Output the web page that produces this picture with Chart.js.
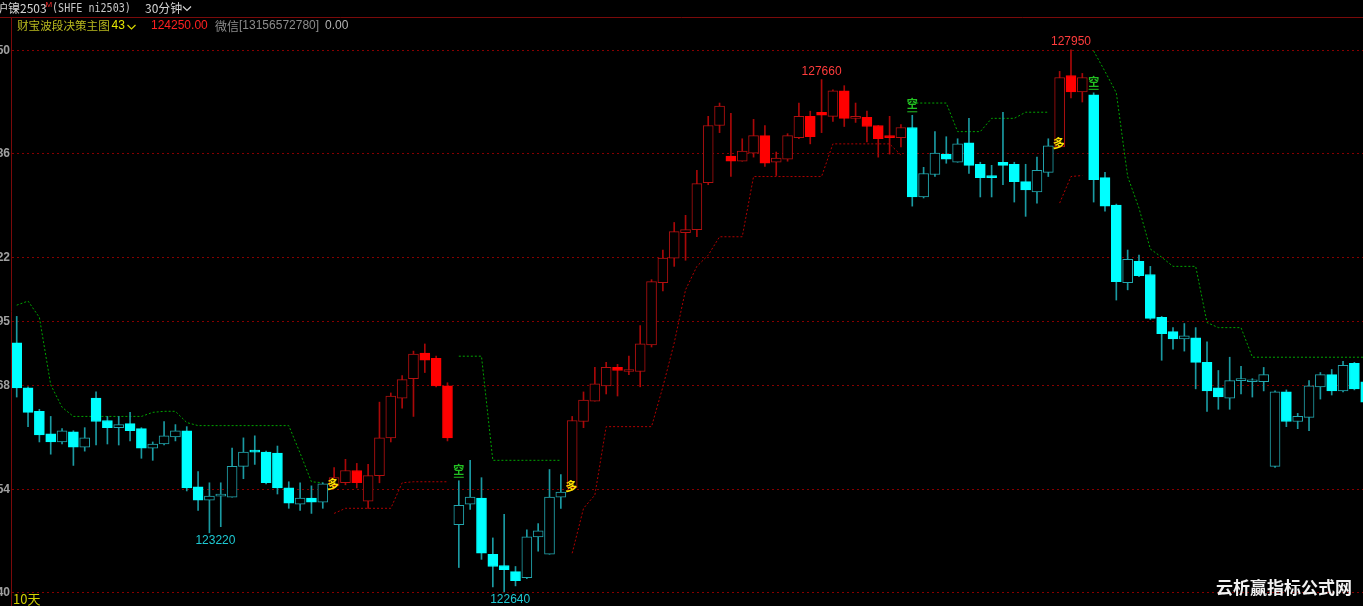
<!DOCTYPE html>
<html>
<head>
<meta charset="utf-8">
<title>沪镍2503 30分钟</title>
<script src="https://cdn.jsdelivr.net/npm/chart.js@4.4.1/dist/chart.umd.min.js"></script>
<style>
  html, body { margin: 0; padding: 0; background: #000; overflow: hidden; }
  canvas { display: block; }
</style>
</head>
<body>
<canvas id="kline" width="1363" height="606"></canvas>
<script>
'use strict';

// 30 minute bars
const opens = [
  125080, 124640, 124410, 124190, 124110, 124210, 124060, 124540, 124320, 124250,
  124290, 124240, 124050, 124090, 124160, 124220, 123670, 123540, 123580, 123570,
  123870, 124030, 124010, 124000, 123660, 123500, 123560, 123520, 123680, 123710,
  123830, 123530, 123780, 124150, 124540, 124730, 124980, 124930, 124660, 123300,
  123500, 123560, 123010, 122900, 122840, 122780, 123180, 123010, 123570, 123660,
  124310, 124510, 124660, 124840, 124800, 124800, 125060, 125670, 125910, 126160,
  126190, 126650, 127210, 126910, 126860, 126940, 127110, 126850, 126880, 127090,
  127300, 127340, 127300, 127550, 127280, 127290, 127210, 127110, 127090, 127190,
  126510, 126730, 126930, 126850, 127040, 126830, 126720, 126850, 126830, 126660,
  126560, 126750, 127000, 127700, 127540, 127510, 126700, 126430, 125670, 125880,
  125750, 125330, 125190, 125120, 125130, 124890, 124640, 124540, 124710, 124700,
  124700, 123870, 124600, 124310, 124350, 124650, 124770, 124610, 124880, 124700
];
const highs = [
  125340, 124650, 124430, 124360, 124240, 124220, 124250, 124600, 124360, 124360,
  124400, 124250, 124110, 124310, 124280, 124260, 123820, 123710, 123710, 124050,
  124150, 124170, 124020, 124070, 123720, 123710, 123680, 123710, 123860, 123940,
  123900, 123890, 124500, 124590, 124760, 125000, 125070, 124950, 124690, 123730,
  123930, 123760, 123170, 123400, 122890, 123250, 123310, 123840, 123790, 124360,
  124600, 124840, 124890, 124870, 124950, 125250, 125700, 125990, 126260, 126330,
  126770, 127300, 127430, 127330, 127080, 127270, 127210, 126950, 127130, 127430,
  127350, 127660, 127560, 127600, 127430, 127350, 127210, 127300, 127220, 127310,
  126800, 127150, 127100, 127080, 127280, 126850, 126820, 127340, 126850, 126830,
  126900, 127080, 127740, 127950, 127720, 127530, 126750, 126440, 125990, 125940,
  125830, 125340, 125230, 125270, 125230, 125090, 124810, 124940, 124850, 124730,
  124840, 124610, 124620, 124390, 124710, 124790, 124820, 124900, 124890, 124720
];
const lows = [
  124550, 124260, 124110, 123990, 124090, 123880, 124020, 124080, 124090, 124080,
  124120, 123950, 123930, 124080, 124120, 123630, 123440, 123220, 123280, 123570,
  123750, 123890, 123700, 123600, 123460, 123440, 123410, 123460, 123660, 123690,
  123660, 123460, 123710, 124110, 124440, 124360, 124790, 124650, 124120, 122880,
  123450, 122960, 122690, 122640, 122700, 122770, 123040, 123010, 123460, 123640,
  124250, 124510, 124580, 124560, 124770, 124650, 125040, 125590, 125830, 125890,
  126120, 126630, 127140, 126710, 126860, 126900, 126810, 126720, 126860, 127080,
  127030, 127140, 127250, 127200, 127240, 127050, 126900, 126930, 127000, 126420,
  126500, 126710, 126840, 126850, 126740, 126510, 126510, 126630, 126460, 126320,
  126450, 126710, 127000, 127480, 127440, 126460, 126370, 125500, 125600, 125730,
  125310, 124910, 125020, 125000, 124630, 124410, 124430, 124430, 124580, 124550,
  124610, 123860, 124260, 124240, 124220, 124530, 124570, 124600, 124620, 124490
];
const closes = [
  124640, 124400, 124180, 124110, 124220, 124060, 124150, 124310, 124250, 124280,
  124220, 124050, 124090, 124170, 124220, 123660, 123540, 123580, 123600, 123870,
  124010, 124010, 123710, 123660, 123510, 123560, 123520, 123700, 123760, 123830,
  123710, 123780, 124150, 124560, 124720, 124970, 124910, 124660, 124150, 123490,
  123570, 123020, 122890, 122860, 122750, 123180, 123240, 123570, 123620, 124320,
  124520, 124680, 124840, 124810, 124810, 125070, 125680, 125910, 126170, 126190,
  126640, 127210, 127400, 126860, 126960, 127110, 126840, 126890, 127110, 127300,
  127100, 127310, 127550, 127280, 127300, 127200, 127080, 127090, 127190, 126510,
  126740, 126940, 126880, 127030, 126820, 126700, 126700, 126820, 126660, 126580,
  126770, 127010, 127680, 127540, 127680, 126680, 126420, 125680, 125900, 125740,
  125320, 125170, 125120, 125150, 124890, 124610, 124550, 124710, 124730, 124710,
  124770, 124600, 124310, 124360, 124660, 124770, 124610, 124860, 124630, 124500
];

// bars coloured red by the indicator (everything else is cyan)
const redRanges = [[28, 38], [49, 78], [92, 94]];

// trailing stop lines of the indicator
const greenStop = [
  125450, 125490, 125330, 124670, 124450, 124360, 124360, 124360, 124360, 124360,
  124360, 124360, 124400, 124410, 124410, 124300, 124270, 124270, 124270, 124270,
  124270, 124270, 124270, 124270, 124270, 124000, 123720, 123710, null, null,
  null, null, null, null, null, null, null, null, null, 124950,
  124950, 124950, 123930, 123930, 123930, 123930, 123930, 123930, 123930, null,
  null, null, null, null, null, null, null, null, null, null,
  null, null, null, null, null, null, null, null, null, null,
  null, null, null, null, null, null, null, null, null, 127430,
  127430, 127430, 127430, 127150, 127150, 127150, 127280, 127280, 127280, 127340,
  127340, 127340, null, null, null, 127940, 127740, 127530, 126710, 126400,
  126000, 125920, 125830, 125830, 125830, 125280, 125230, 125230, 125230, 124940,
  124940, 124940, 124940, 124940, 124940, 124940, 124940, 124940, 124940, 124940
];
const redStop = [
  null, null, null, null, null, null, null, null, null, null,
  null, null, null, null, null, null, null, null, null, null,
  null, null, null, null, null, null, null, null, 123410, 123460,
  123460, 123460, 123460, 123460, 123710, 123720, 123720, 123720, 123720, null,
  null, null, null, null, null, null, null, null, null, 123020,
  123460, 123590, 124260, 124260, 124260, 124260, 124260, 124650, 125080, 125600,
  125830, 125940, 126120, 126120, 126120, 126710, 126710, 126710, 126710, 126710,
  126710, 126710, 127030, 127030, 127030, 127030, 127030, 127030, 126920, null,
  null, null, null, null, null, null, null, null, null, null,
  null, null, 126450, 126710, 126720, null, null, null, null, null,
  null, null, null, null, null, null, null, null, null, null,
  null, null, null, null, null, null, null, null, null, null
];

// 多 / 空 signals (bar index)
const buySignals = [28, 49, 92];
const sellSignals = [39, 79, 95];

// high / low labels
const markIdx = [71, 93, 17, 43];
const markVal = [127660, 127950, 123220, 122640];

// horizontal levels (low, high and the fib steps between)
const levelValues = [127950, 126936, 125922, 125295, 124668, 123654, 122640];

const cjk = '"Noto Sans CJK SC", "DejaVu Sans", sans-serif';

function isRed(i) {
  return redRanges.some(r => i >= r[0] && i <= r[1]);
}

const idx = opens.map((_, i) => i);
const bodies = idx.map(i => ({ x: i, y: [opens[i], closes[i]] }));
const wicks = idx.map(i => ({ x: i, y: [lows[i], highs[i]] }));

const bodyFill = idx.map(i => {
  let up = closes[i] >= opens[i];
  if (up) return '#000';
  return isRed(i) ? '#ff0000' : '#00ffff';
});
const bodyEdge = idx.map(i => {
  let up = closes[i] >= opens[i];
  if (isRed(i)) return up ? '#b21010' : '#ff0000';
  return up ? '#22a6ae' : '#00ffff';
});
const wickColor = idx.map(i => (isRed(i) ? '#a80808' : '#1a9aa2'));

function chevron(ctx, x, y, color) {
  ctx.strokeStyle = color;
  ctx.lineWidth = 1.2;
  ctx.setLineDash([]);
  ctx.beginPath();
  ctx.moveTo(x, y - 2);
  ctx.lineTo(x + 4, y + 2);
  ctx.lineTo(x + 8, y - 2);
  ctx.stroke();
}

const frame = {
  id: 'frame',
  beforeDraw(chart) {
    let ctx = chart.ctx;
    ctx.save();
    ctx.fillStyle = '#000';
    ctx.fillRect(0, 0, chart.width, chart.height);
    ctx.restore();
  },
  beforeDatasetsDraw(chart) {
    let { ctx, chartArea, scales } = chart;
    ctx.save();
    ctx.strokeStyle = '#860000';
    ctx.lineWidth = 1;
    ctx.setLineDash([2, 3]);
    ctx.font = 'bold 12px "Liberation Sans", sans-serif';
    ctx.fillStyle = '#a0a0a0';
    ctx.textAlign = 'right';
    ctx.textBaseline = 'middle';
    levelValues.forEach(v => {
      let y = Math.round(scales.y.getPixelForValue(v)) + 0.5;
      ctx.beginPath();
      ctx.moveTo(chartArea.left, y);
      ctx.lineTo(chartArea.right, y);
      ctx.stroke();
      ctx.fillText(String(v), chartArea.left - 2, y);
    });
    ctx.restore();
  },
  afterDatasetsDraw(chart) {
    let { ctx, scales } = chart;
    ctx.save();
    ctx.textAlign = 'center';
    ctx.textBaseline = 'middle';

    // 多 signals, yellow, at the bar low
    ctx.font = 'bold 12px ' + cjk;
    ctx.fillStyle = '#ffe000';
    buySignals.forEach(i => {
      ctx.fillText('多', scales.x.getPixelForValue(i) - 1, scales.y.getPixelForValue(lows[i]) - 3);
    });

    // 空 signals, green, above the bar high
    ctx.font = 'bold 11px ' + cjk;
    ctx.fillStyle = '#22c022';
    ctx.strokeStyle = '#22c022';
    ctx.lineWidth = 1;
    sellSignals.forEach(i => {
      let x = scales.x.getPixelForValue(i);
      let y = scales.y.getPixelForValue(highs[i]);
      ctx.fillText('空', x, y - 11);
      ctx.beginPath();
      ctx.moveTo(x - 5, y - 3.5);
      ctx.lineTo(x + 5, y - 3.5);
      ctx.stroke();
    });

    // extreme labels
    ctx.font = '12px "Liberation Sans", sans-serif';
    markIdx.forEach((i, k) => {
      let x = scales.x.getPixelForValue(i);
      let y = scales.y.getPixelForValue(markVal[k]);
      let isHigh = markVal[k] === highs[i];
      ctx.fillStyle = isHigh ? '#ff3c3c' : '#1ec8d2';
      ctx.fillText(String(markVal[k]), isHigh ? x : x + 6, isHigh ? y - 8 : y + 8);
    });
    ctx.restore();
  },
  afterDraw(chart) {
    let { ctx, chartArea } = chart;
    ctx.save();

    // frame lines
    ctx.strokeStyle = '#7a0a0a';
    ctx.lineWidth = 1;
    ctx.beginPath();
    ctx.moveTo(0, 17.5);
    ctx.lineTo(chart.width, 17.5);
    ctx.moveTo(chartArea.left - 0.5, 17.5);
    ctx.lineTo(chartArea.left - 0.5, chart.height);
    ctx.stroke();

    ctx.textBaseline = 'middle';
    ctx.textAlign = 'left';

    // title row
    ctx.font = '12px ' + cjk;
    ctx.fillStyle = '#d4d4d4';
    ctx.fillText('沪镍2503', -4, 8);
    ctx.font = '8px "Liberation Sans", sans-serif';
    ctx.fillStyle = '#ff3030';
    ctx.fillText('M', 45.5, 5);
    ctx.save();
    ctx.translate(52, 8.5);
    ctx.scale(0.84, 1);
    ctx.font = '12px "DejaVu Sans Mono", monospace';
    ctx.fillStyle = '#c8c8c8';
    ctx.fillText('(SHFE ni2503)', 0, 0);
    ctx.restore();
    ctx.font = '12px ' + cjk;
    ctx.fillStyle = '#d4d4d4';
    ctx.fillText('30分钟', 145, 8);
    chevron(ctx, 183, 8.5, '#d4d4d4');

    // indicator row
    ctx.font = '11.6px ' + cjk;
    ctx.fillStyle = '#b8b81e';
    ctx.fillText('财宝波段决策主图', 17, 26);
    ctx.fillStyle = '#e6e600';
    ctx.font = '12px "Liberation Sans", sans-serif';
    ctx.fillText('43', 111.5, 26);
    chevron(ctx, 127.5, 27, '#d8d800');
    ctx.fillStyle = '#ff2020';
    ctx.fillText('124250.00', 151, 26);
    ctx.font = '12px ' + cjk;
    ctx.fillStyle = '#8c8c8c';
    ctx.fillText('微信', 215, 26);
    ctx.font = '12px "Liberation Sans", sans-serif';
    ctx.fillText('[13156572780]', 239, 26);
    ctx.fillStyle = '#b4b4b4';
    ctx.fillText('0.00', 325, 26);

    // period tag
    ctx.font = '13px ' + cjk;
    ctx.fillStyle = '#d2d200';
    ctx.fillText('10天', 13, 599);

    // watermark
    ctx.font = 'bold 17px ' + cjk;
    ctx.fillStyle = '#f2f2f2';
    ctx.fillText('云析赢指标公式网', 1216, 588);
    ctx.restore();
  }
};

let canvas = document.getElementById('kline');

new Chart(canvas, {
  type: 'bar',
  data: {
    datasets: [
      {
        type: 'bar',
        label: 'body',
        data: bodies,
        backgroundColor: bodyFill,
        borderColor: bodyEdge,
        borderWidth: 1,
        borderSkipped: false,
        barThickness: 10,
        minBarLength: 2,
        grouped: false,
        order: 0,
      },
      {
        type: 'bar',
        label: 'wick',
        data: wicks,
        backgroundColor: wickColor,
        borderWidth: 0,
        barThickness: 1,
        grouped: false,
        order: 1,
      },
      {
        type: 'line',
        label: 'green stop',
        data: greenStop.map((v, i) => ({ x: i, y: v })),
        borderColor: '#00a400',
        borderWidth: 1,
        borderDash: [2, 2],
        pointRadius: 0,
        spanGaps: false,
        tension: 0,
        order: 2,
      },
      {
        type: 'line',
        label: 'red stop',
        data: redStop.map((v, i) => ({ x: i, y: v })),
        borderColor: '#b00000',
        borderWidth: 1,
        borderDash: [2, 2],
        pointRadius: 0,
        spanGaps: false,
        tension: 0,
        order: 2,
      },
    ],
  },
  options: {
    responsive: false,
    animation: false,
    events: [],
    layout: { padding: { left: 12, top: 18, right: 0, bottom: 0 } },
    plugins: { legend: { display: false }, tooltip: { enabled: false } },
    scales: {
      x: { type: 'linear', display: false, offset: false, bounds: 'data', min: -0.415, max: 118.76 },
      y: { type: 'linear', display: false, min: 122503, max: 128263 },
    },
  },
  plugins: [frame],
});
</script>
</body>
</html>
